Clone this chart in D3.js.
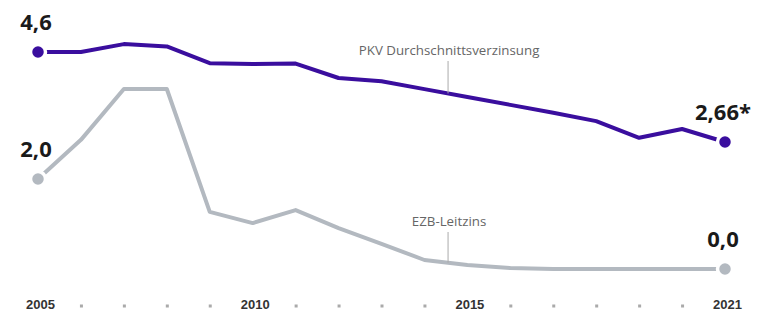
<!DOCTYPE html>
<html>
<head>
<meta charset="utf-8">
<script src="https://cdnjs.cloudflare.com/ajax/libs/d3/7.8.5/d3.min.js"></script>
<style>
  body { margin: 0; background: #fff; }
  svg { display: block; font-family: "Open Sans", sans-serif; }
  .endlabel { font-weight: 700; font-size: 22px; fill: #1a1a1a; }
  .note { font-size: 13.3px; fill: #666; }
  .axis text { font-weight: 700; font-size: 13px; fill: #333; }
</style>
</head>
<body>
<div id="chart"></div>
<script>
let years = d3.range(2005, 2022);
let pkv = [4.6, 4.6, 4.77, 4.72, 4.36, 4.34, 4.35, 4.04, 3.97, 3.80, 3.63, 3.46, 3.29, 3.11, 2.75, 2.94, 2.66];
let ezb = [2.0, 2.87, 4.0, 4.0, 1.27, 1.02, 1.31, 0.91, 0.56, 0.2, 0.09, 0.02, 0.0, 0.0, 0.0, 0.0, 0.0];
let labeledYears = [2005, 2010, 2015, 2021];
let pkvLabels = ["4,6", "2,66*"];
let ezbLabels = ["2,0", "0,0"];

let width = 771, height = 316;

let svg = d3.select("#chart")
    .append("svg")
    .attr("width", width)
    .attr("height", height);

let xScale = d3.scaleLinear().domain([2005, 2021]).range([38, 725]);
// the two lines are not drawn on exactly the same vertical scale in the original
let yPkv = d3.scaleLinear().domain([2.66, 4.6]).range([142, 52]);
let yEzb = d3.scaleLinear().domain([0, 2.0]).range([269, 179]);

// x axis
let xAxis = d3.axisBottom(xScale)
    .tickValues(years)
    .tickSize(0)
    .tickPadding(0)
    .tickFormat((d) => labeledYears.includes(d) ? d : "");

let axisG = svg.append("g")
    .attr("class", "axis")
    .attr("transform", "translate(0,297)")
    .call(xAxis);
axisG.select(".domain").remove();
axisG.selectAll(".tick text").attr("dy", "0.95em").attr("dx", 2);
axisG.selectAll(".tick")
    .filter((d) => !labeledYears.includes(d))
    .append("rect")
    .attr("x", -1.5)
    .attr("y", 7.5)
    .attr("width", 3)
    .attr("height", 3)
    .attr("fill", "#aaa");

function drawSeries(values, yScale, color, labels) {
    let line = d3.line()
        .x((d, i) => xScale(years[i]))
        .y((d) => yScale(d));

    svg.append("path")
        .datum(values)
        .attr("d", line)
        .attr("fill", "none")
        .attr("stroke", color)
        .attr("stroke-width", 4)
        .attr("stroke-linejoin", "round");

    let ends = [0, values.length - 1];
    ends.forEach((idx, k) => {
        let cx = xScale(years[idx]);
        let cy = yScale(values[idx]);
        svg.append("circle")
            .attr("cx", cx)
            .attr("cy", cy)
            .attr("r", 7.5)
            .attr("fill", color)
            .attr("stroke", "#fff")
            .attr("stroke-width", 3.5);
        svg.append("text")
            .attr("class", "endlabel")
            .attr("x", cx - 2)
            .attr("y", cy - 22)
            .attr("text-anchor", "middle")
            .text(labels[k]);
    });
}

drawSeries(ezb, yEzb, "#b3b9c0", ezbLabels);
drawSeries(pkv, yPkv, "#3a0e9e", pkvLabels);

// annotations with leader lines
function note(text, year, yScale, values, textY) {
    let x = xScale(year);
    let yLine = yScale(values[0] + (values[1] - values[0]) * (year - Math.floor(year)));
    svg.append("line")
        .attr("x1", x).attr("x2", x)
        .attr("y1", textY + 6).attr("y2", yLine)
        .attr("stroke", "#aaa")
        .attr("stroke-width", 1);
    svg.append("text")
        .attr("class", "note")
        .attr("x", x + 1)
        .attr("y", textY)
        .attr("text-anchor", "middle")
        .text(text);
}

note("PKV Durchschnittsverzinsung", 2014.55, yPkv, [pkv[9], pkv[10]], 55);
note("EZB-Leitzins", 2014.55, yEzb, [ezb[9], ezb[10]], 226);
</script>
</body>
</html>
